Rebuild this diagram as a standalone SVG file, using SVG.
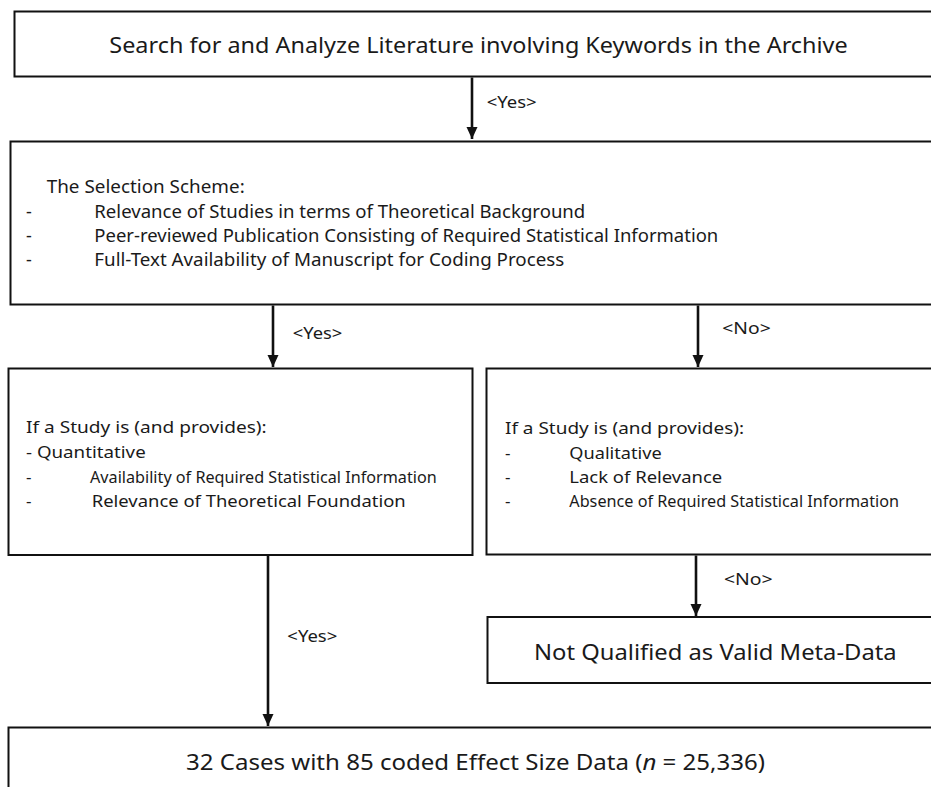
<svg xmlns="http://www.w3.org/2000/svg" width="931" height="787" viewBox="0 0 931 787">
<style>
  .box { fill: #ffffff; stroke: #111111; stroke-width: 2; }
  .conn { stroke: #111111; stroke-width: 2.6; fill: none; }
  text { font-family: "Noto Sans", "Open Sans", "Liberation Sans", sans-serif; fill: #1a1a1a; }
  .big { font-size: 22px; }
  .mid { font-size: 18px; }
  .sm { font-size: 17px; }
  .lbl { font-size: 16px; }
</style>
<defs>
  <marker id="ah" markerUnits="userSpaceOnUse" markerWidth="13" markerHeight="12" refX="12" refY="5.5" orient="auto">
    <path d="M0,0 L12,5.5 L0,11 z" fill="#111111"/>
  </marker>
</defs>
<rect x="0" y="0" width="931" height="787" fill="#ffffff"/>

<g id="connectors">
  <line class="conn" x1="472" y1="77.5" x2="472" y2="139" marker-end="url(#ah)"/>
  <line class="conn" x1="273" y1="305.5" x2="273" y2="367" marker-end="url(#ah)"/>
  <line class="conn" x1="698" y1="305.5" x2="698" y2="367" marker-end="url(#ah)"/>
  <line class="conn" x1="696" y1="555.5" x2="696" y2="616" marker-end="url(#ah)"/>
  <line class="conn" x1="268" y1="556" x2="268" y2="726" marker-end="url(#ah)"/>
  <text class="lbl" x="486.7" y="108.3" textLength="50" lengthAdjust="spacingAndGlyphs">&lt;Yes&gt;</text>
  <text class="lbl" x="292.7" y="339.3" textLength="49.6" lengthAdjust="spacingAndGlyphs">&lt;Yes&gt;</text>
  <text class="lbl" x="722.3" y="334.3" textLength="48.4" lengthAdjust="spacingAndGlyphs">&lt;No&gt;</text>
  <text class="lbl" x="724" y="585" textLength="48.7" lengthAdjust="spacingAndGlyphs">&lt;No&gt;</text>
  <text class="lbl" x="287.3" y="641.7" textLength="50" lengthAdjust="spacingAndGlyphs">&lt;Yes&gt;</text>
</g>

<g id="node-search">
  <rect class="box" x="14.5" y="11.5" width="930" height="65"/>
  <text class="big" x="109.3" y="53.3" textLength="738.4" lengthAdjust="spacingAndGlyphs">Search for and Analyze Literature involving Keywords in the Archive</text>
</g>

<g id="node-selection">
  <rect class="box" x="10.5" y="141.5" width="930" height="163"/>
  <text class="mid" x="46.7" y="193.3" textLength="198" lengthAdjust="spacingAndGlyphs">The Selection Scheme:</text>
  <text class="mid" x="26" y="218.3">-</text>
  <text class="mid" x="94.3" y="218.3" textLength="491" lengthAdjust="spacingAndGlyphs">Relevance of Studies in terms of Theoretical Background</text>
  <text class="mid" x="26" y="242.3">-</text>
  <text class="mid" x="94.3" y="242.3" textLength="624" lengthAdjust="spacingAndGlyphs">Peer-reviewed Publication Consisting of Required Statistical Information</text>
  <text class="mid" x="26" y="266">-</text>
  <text class="mid" x="94.3" y="266" textLength="470" lengthAdjust="spacingAndGlyphs">Full-Text Availability of Manuscript for Coding Process</text>
</g>

<g id="node-quantitative">
  <rect class="box" x="8.5" y="368.5" width="464" height="186.5"/>
  <text class="sm" x="26" y="433.3" textLength="240.7" lengthAdjust="spacingAndGlyphs">If a Study is (and provides):</text>
  <text class="sm" x="26" y="458.3" textLength="119.7" lengthAdjust="spacingAndGlyphs">- Quantitative</text>
  <text class="sm" x="26" y="482.7">-</text>
  <text class="sm" x="90" y="482.7" textLength="346.7" lengthAdjust="spacingAndGlyphs">Availability of Required Statistical Information</text>
  <text class="sm" x="26" y="506.7">-</text>
  <text class="sm" x="91.7" y="506.7" textLength="314" lengthAdjust="spacingAndGlyphs">Relevance of Theoretical Foundation</text>
</g>

<g id="node-qualitative">
  <rect class="box" x="486.5" y="368.5" width="460" height="186"/>
  <text class="sm" x="505" y="434" textLength="239" lengthAdjust="spacingAndGlyphs">If a Study is (and provides):</text>
  <text class="sm" x="505" y="459">-</text>
  <text class="sm" x="569.3" y="459" textLength="92.4" lengthAdjust="spacingAndGlyphs">Qualitative</text>
  <text class="sm" x="505" y="483.3">-</text>
  <text class="sm" x="569.3" y="483.3" textLength="153" lengthAdjust="spacingAndGlyphs">Lack of Relevance</text>
  <text class="sm" x="505" y="506.7">-</text>
  <text class="sm" x="569.3" y="506.7" textLength="329.7" lengthAdjust="spacingAndGlyphs">Absence of Required Statistical Information</text>
</g>

<g id="node-not-qualified">
  <rect class="box" x="487.5" y="617" width="460" height="66"/>
  <text class="big" x="534" y="660" textLength="362.7" lengthAdjust="spacingAndGlyphs">Not Qualified as Valid Meta-Data</text>
</g>

<g id="node-result">
  <rect class="box" x="8.5" y="727.5" width="940" height="80"/>
  <text class="big" x="186" y="770" textLength="579" lengthAdjust="spacingAndGlyphs">32 Cases with 85 coded Effect Size Data (<tspan font-style="italic">n</tspan> = 25,336)</text>
</g>
</svg>
